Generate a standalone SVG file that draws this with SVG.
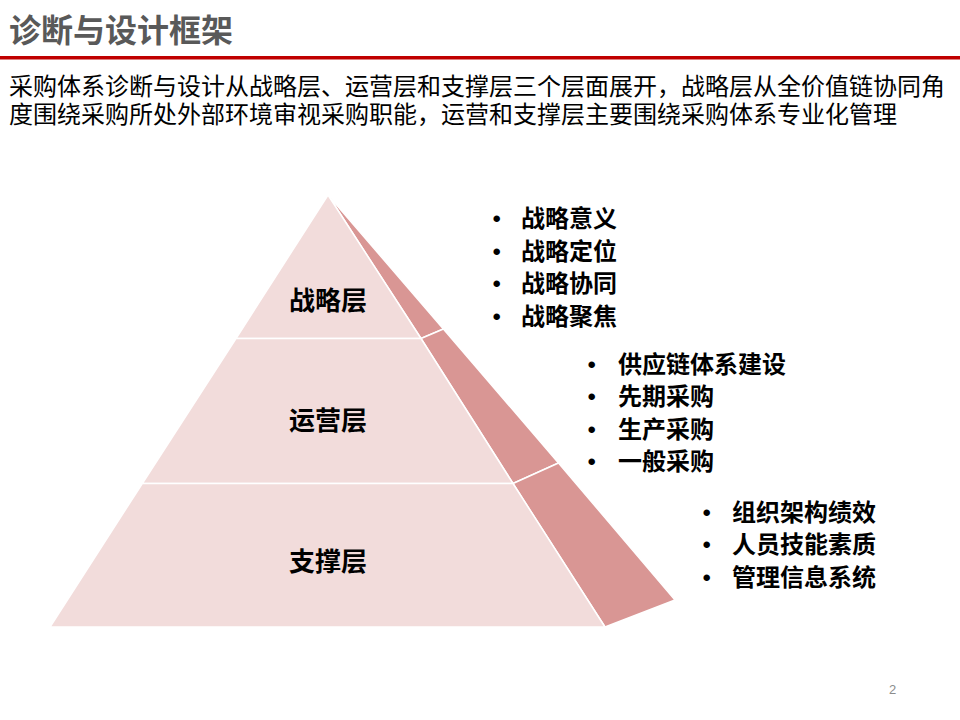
<svg xmlns="http://www.w3.org/2000/svg" width="960" height="720" viewBox="0 0 960 720">
<style>
.cjk{font-family:"Noto Sans CJK SC","Liberation Sans",sans-serif}
.title{font-size:32px;font-weight:bold;fill:#595959}
.body{font-size:24px;fill:#000}
.lbl{font-size:26px;font-weight:bold;fill:#000;text-anchor:middle}
.item{font-size:24px;font-weight:bold;fill:#000}
.bul{font-family:"Liberation Sans",Arial,sans-serif;font-size:24px;fill:#000}
.front{fill:#F2DCDB;stroke:#FFFFFF;stroke-width:1.5;stroke-linejoin:round}
.side{fill:#D99694;stroke:#FFFFFF;stroke-width:1.5;stroke-linejoin:round}
.pg{font-family:"Liberation Sans",Arial,sans-serif;font-size:13px;fill:#8c8c8c}
</style>
<rect width="960" height="720" fill="#FFFFFF"/>
<g id="header">
<text class="cjk title" x="9" y="42">诊断与设计框架</text>
<rect x="0" y="56" width="960" height="3.5" fill="#C00000"/>
<text class="cjk body"><tspan x="9" y="94.5">采购体系诊断与设计从战略层、运营层和支撑层三个层面展开，战略层从全价值链协同角</tspan><tspan x="9" y="122.5">度围绕采购所处外部环境审视采购职能，运营和支撑层主要围绕采购体系专业化管理</tspan></text>
</g>
<g id="pyramid">
<g id="tier-strategy">
<polygon class="side" points="328,195 443.4,329 421,338.5"/>
<polygon class="front" points="328,195 421,338.5 236,338.5"/>
<text class="cjk lbl" x="328" y="310">战略层</text>
</g>
<g id="tier-operation">
<polygon class="side" points="421,338.5 443.4,329 558.5,463 513,483.5"/>
<polygon class="front" points="236,338.5 421,338.5 513,483.5 142.3,483.5"/>
<text class="cjk lbl" x="328" y="430">运营层</text>
</g>
<g id="tier-support">
<polygon class="side" points="513,483.5 558.5,463 675,600 605,627"/>
<polygon class="front" points="142.3,483.5 513,483.5 605,627 50,627"/>
<text class="cjk lbl" x="328" y="571">支撑层</text>
</g>
</g>
<g id="list-strategy">
<text class="bul" x="492.5" y="227">•</text><text class="cjk item" x="521" y="227">战略意义</text>
<text class="bul" x="492.5" y="259.5">•</text><text class="cjk item" x="521" y="259.5">战略定位</text>
<text class="bul" x="492.5" y="292">•</text><text class="cjk item" x="521" y="292">战略协同</text>
<text class="bul" x="492.5" y="324.5">•</text><text class="cjk item" x="521" y="324.5">战略聚焦</text>
</g>
<g id="list-operation">
<text class="bul" x="587.5" y="372.5">•</text><text class="cjk item" x="618" y="372.5">供应链体系建设</text>
<text class="bul" x="587.5" y="405">•</text><text class="cjk item" x="618" y="405">先期采购</text>
<text class="bul" x="587.5" y="437.5">•</text><text class="cjk item" x="618" y="437.5">生产采购</text>
<text class="bul" x="587.5" y="470">•</text><text class="cjk item" x="618" y="470">一般采购</text>
</g>
<g id="list-support">
<text class="bul" x="702.5" y="520.5">•</text><text class="cjk item" x="732" y="520.5">组织架构绩效</text>
<text class="bul" x="702.5" y="553">•</text><text class="cjk item" x="732" y="553">人员技能素质</text>
<text class="bul" x="702.5" y="585.5">•</text><text class="cjk item" x="732" y="585.5">管理信息系统</text>
</g>
<g id="connectors"></g>
<text class="pg" x="889" y="694">2</text>
</svg>
